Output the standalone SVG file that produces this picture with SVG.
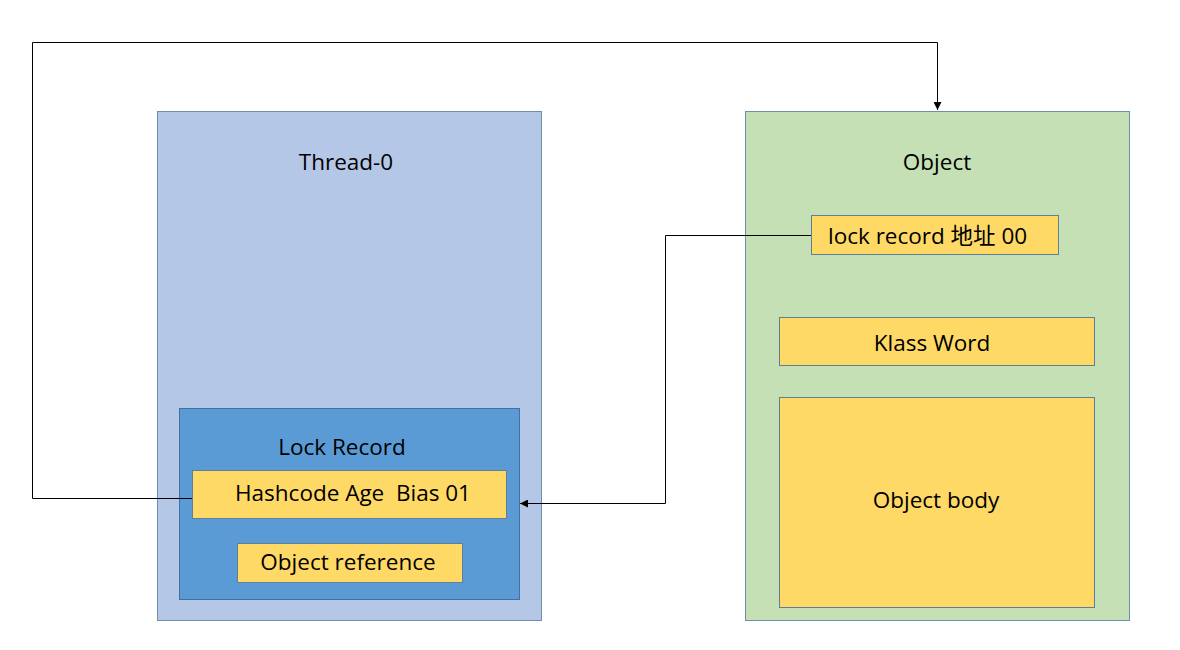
<svg xmlns="http://www.w3.org/2000/svg" width="1180" height="650" viewBox="0 0 1180 650">
<defs>
<style>
.t{font-family:"Open Sans","Noto Sans CJK SC",sans-serif;font-size:22.5px;fill:#000}
.c{text-anchor:middle}
.outer{stroke:#6b8fad;stroke-width:1}
.y{fill:#ffd966;stroke:#5f7f99;stroke-width:1}
.ln{fill:none;stroke:#000;stroke-width:1}
</style>
<marker id="ah" viewBox="0 0 10 10" refX="10" refY="5" markerWidth="8" markerHeight="8" orient="auto" markerUnits="userSpaceOnUse">
<path d="M0,0 L10,5 L0,10 z" fill="#000"/>
</marker>
</defs>
<rect width="1180" height="650" fill="#fff"/>
<g id="thread0">
<rect class="outer" x="157.5" y="111.5" width="384" height="509" fill="#b4c7e7"/>
<text class="t c" x="346" y="170">Thread-0</text>
</g>
<g id="lockrecord">
<rect x="179.5" y="408.5" width="340" height="191" fill="#5b9bd5" stroke="#41719c"/>
<text class="t c" x="342" y="455">Lock Record</text>
</g>
<g id="hashcode">
<rect class="y" x="192.5" y="470.5" width="314" height="48"/>
<text class="t" x="235" y="501" xml:space="preserve">Hashcode Age  Bias 01</text>
</g>
<g id="objref">
<rect class="y" x="237.5" y="543.5" width="225" height="39"/>
<text class="t c" x="348" y="570">Object reference</text>
</g>
<g id="object">
<rect class="outer" x="745.5" y="111.5" width="384" height="509" fill="#c5e0b4"/>
<text class="t c" x="937" y="170">Object</text>
</g>
<g id="lockaddr">
<rect class="y" x="811.5" y="215.5" width="247" height="39"/>
<text class="t" x="828" y="244">lock record 地址 00</text>
</g>
<g id="klass">
<rect class="y" x="779.5" y="317.5" width="315" height="48"/>
<text class="t c" x="932" y="351">Klass Word</text>
</g>
<g id="body">
<rect class="y" x="779.5" y="397.5" width="315" height="210"/>
<text class="t c" x="936" y="508">Object body</text>
</g>
<g id="connectors">
<path class="ln" d="M192,498.5 H32.5 V42.5 H937.5 V110" marker-end="url(#ah)"/>
<path class="ln" d="M811,235.5 H665.5 V503.5 H520" marker-end="url(#ah)"/>
</g>
</svg>
